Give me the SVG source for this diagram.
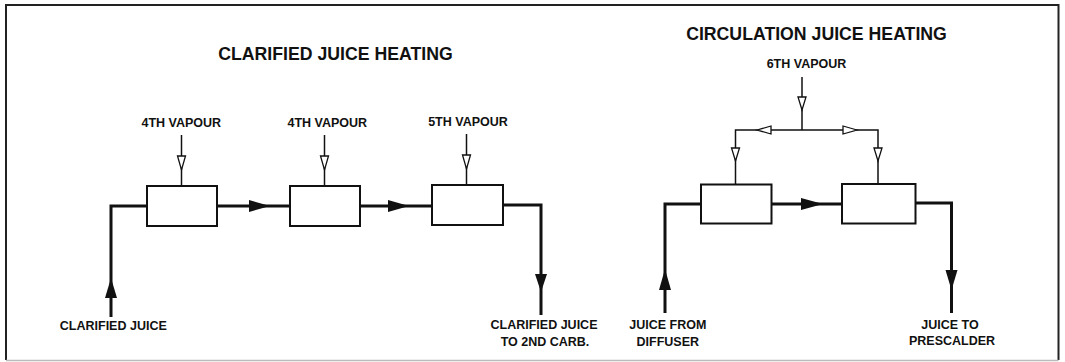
<svg xmlns="http://www.w3.org/2000/svg" width="1065" height="362" viewBox="0 0 1065 362">
<style>
.t{font-family:"Liberation Sans",Arial,sans-serif;font-weight:bold;fill:#111;text-anchor:middle}
.title{font-size:17.7px}
.lbl{font-size:12.5px}
.box{fill:#fff;stroke:#111;stroke-width:2}
.juice{fill:none;stroke:#111;stroke-width:3;stroke-linejoin:miter}
.vap{fill:none;stroke:#111;stroke-width:1.5}
.fa{fill:#111;stroke:none}
.oa{fill:#fff;stroke:#111;stroke-width:1.3;stroke-linejoin:miter}
</style>
<rect x="0" y="0" width="1065" height="362" fill="#fff"/>
<g id="frame">
<path d="M6 360 V5 H1058.5 V360" fill="none" stroke="#222" stroke-width="2"/>
<line x1="6" y1="360.5" x2="1058.5" y2="360.5" stroke="#bbb" stroke-width="1.5"/>
</g>
<g id="titles">
<text class="t title" x="335.5" y="59.5">CLARIFIED JUICE HEATING</text>
<text class="t title" x="816.5" y="40">CIRCULATION JUICE HEATING</text>
</g>
<g id="connectors">
<!-- left system juice -->
<path class="juice" d="M111 317 V206 H147"/>
<path class="juice" d="M217 206 H290"/>
<path class="juice" d="M360 206 H432"/>
<path class="juice" d="M503 205 H541 V315"/>
<polygon class="fa" points="111,278 105,298 117,298"/>
<polygon class="fa" points="270,206 249,200 249,212"/>
<polygon class="fa" points="409,206 388,200 388,212"/>
<polygon class="fa" points="541,292 535,274 547,274"/>
<!-- left system vapour -->
<line class="vap" x1="181.5" y1="135" x2="181.5" y2="186"/>
<line class="vap" x1="324.5" y1="135" x2="324.5" y2="186"/>
<line class="vap" x1="466.5" y1="134" x2="466.5" y2="185"/>
<polygon class="oa" points="177.5,156 185.5,156 181.5,170"/>
<polygon class="oa" points="320.5,156 328.5,156 324.5,170"/>
<polygon class="oa" points="462.5,155 470.5,155 466.5,169"/>
<!-- right system juice -->
<path class="juice" d="M665 313 V204 H701"/>
<path class="juice" d="M771.5 204 H842"/>
<path class="juice" d="M915.5 203 H951.5 V313"/>
<polygon class="fa" points="665,269 659,290 671,290"/>
<polygon class="fa" points="823,204 801,198 801,210"/>
<polygon class="fa" points="951.5,290 945.5,270 957.5,270"/>
<!-- right system vapour -->
<line class="vap" x1="802" y1="77" x2="802" y2="130"/>
<path class="vap" d="M735.5 184.5 V130 H878 V184"/>
<polygon class="oa" points="798,97 806,97 802,110"/>
<polygon class="oa" points="757,130 771,126 771,134"/>
<polygon class="oa" points="857,130 843,126 843,134"/>
<polygon class="oa" points="731.5,148 739.5,148 735.5,161"/>
<polygon class="oa" points="874,148 882,148 878,161"/>
</g>
<g id="heater1"><rect class="box" x="147" y="186" width="70" height="40"/></g>
<g id="heater2"><rect class="box" x="290" y="186" width="70" height="40"/></g>
<g id="heater3"><rect class="box" x="432" y="185" width="71" height="40"/></g>
<g id="heater4"><rect class="box" x="701" y="184.5" width="70.5" height="39"/></g>
<g id="heater5"><rect class="box" x="842" y="184" width="73.5" height="39.5"/></g>
<g id="vapour1"><text class="t lbl" x="181.3" y="127">4TH VAPOUR</text></g>
<g id="vapour2"><text class="t lbl" x="327.3" y="126.5">4TH VAPOUR</text></g>
<g id="vapour3"><text class="t lbl" x="468" y="126">5TH VAPOUR</text></g>
<g id="vapour6"><text class="t lbl" x="806.5" y="68">6TH VAPOUR</text></g>
<g id="clarified-in"><text class="t lbl" x="113.3" y="330">CLARIFIED JUICE</text></g>
<g id="clarified-out"><text class="t lbl" x="544" y="328.5">CLARIFIED JUICE</text><text class="t lbl" x="545" y="345.5">TO 2ND CARB.</text></g>
<g id="diffuser-in"><text class="t lbl" x="667.8" y="329">JUICE FROM</text><text class="t lbl" x="667.8" y="345.5">DIFFUSER</text></g>
<g id="prescalder-out"><text class="t lbl" x="950" y="329">JUICE TO</text><text class="t lbl" x="952" y="344.5">PRESCALDER</text></g>
</svg>
